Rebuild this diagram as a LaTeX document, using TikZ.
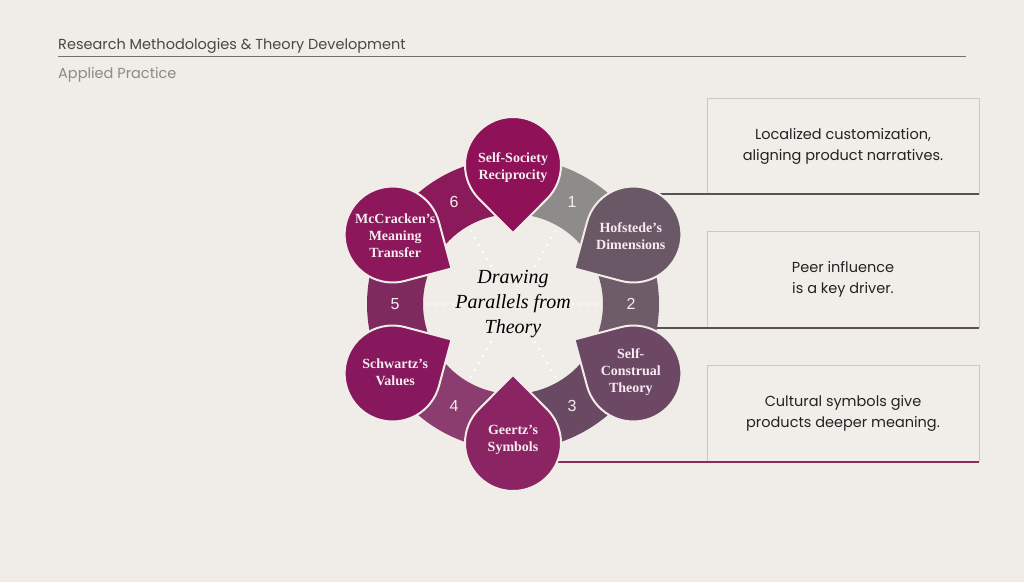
\documentclass[tikz,border=0pt]{standalone}
\usepackage{fontspec}
\usepackage{tikz}
\usetikzlibrary{positioning,calc}
\newfontfamily\popfont{Poppins}
\newfontfamily\labelfont{Liberation Serif}
\newfontfamily\numfont{Liberation Sans}
\definecolor{pgback}{HTML}{F0ECE8}
\definecolor{headtext}{HTML}{484848}
\definecolor{subtext}{HTML}{8A8A8A}
\definecolor{ruleline}{HTML}{707070}
\definecolor{notefill}{HTML}{F1EEEA}
\definecolor{notedge}{HTML}{CCC7C2}
\definecolor{notetext}{HTML}{222222}
\definecolor{linkone}{HTML}{545454}
\definecolor{linktwo}{HTML}{5C4E57}
\definecolor{linkthree}{HTML}{8C2A5F}
\definecolor{segone}{HTML}{8E8C8B}
\definecolor{segtwo}{HTML}{6E5D69}
\definecolor{segthree}{HTML}{6A4A63}
\definecolor{segfour}{HTML}{8A3D6E}
\definecolor{segfive}{HTML}{7E2A5E}
\definecolor{segsix}{HTML}{8A1A5A}
\definecolor{dropone}{HTML}{8F1157}
\definecolor{droptwo}{HTML}{6B5866}
\definecolor{dropthree}{HTML}{6D4865}
\definecolor{dropfour}{HTML}{8B2462}
\definecolor{dropfive}{HTML}{87185D}
\definecolor{dropsix}{HTML}{8C175A}
\definecolor{dropwhite}{HTML}{F5ECF0}
\tikzstyle{note} = [rectangle, minimum width=272, minimum height=96, text centered, align=center, draw=notedge, fill=notefill, line width=0.8pt, text=notetext, font=\popfont\fontsize{14.5}{21}\selectfont]
\tikzstyle{link} = [line width=2pt]
\tikzstyle{drop} = [draw=pgback, line width=2pt, line join=round]
\tikzstyle{droplabel} = [align=center, text=dropwhite, font=\labelfont\bfseries\fontsize{14}{17}\selectfont]
\tikzstyle{num} = [text=dropwhite, font=\numfont\fontsize{16}{16}\selectfont]
\tikzstyle{dotline} = [draw=white, opacity=0.85, line width=3pt, line cap=round, dash pattern=on 0pt off 8pt]

\begin{document}
\begin{tikzpicture}[x=1pt, y=1pt]
\useasboundingbox (0,0) rectangle (1024,582);
\fill[pgback] (0,0) rectangle (1024,582);

% Header
\node (head) [anchor=base west, inner sep=0, text=headtext, font=\popfont\fontsize{14.5}{17}\selectfont] at (58,532) {Research Methodologies \& Theory Development};
\draw[ruleline, line width=1pt] ([yshift=-7]head.base west) -- ++(908,0);
\node (sub) [anchor=base west, inner sep=0, text=subtext, font=\popfont\fontsize{14.5}{17}\selectfont] at (58,503) {Applied Practice};

% Notes
\node (noteone) [note] at (843,436) {Localized customization,\\aligning product narratives.};
\node (notetwo) [note, below=37 of noteone] {Peer influence\\is a key driver.};
\node (notethree) [note, below=37 of notetwo] {Cultural symbols give\\products deeper meaning.};

% Wheel
\coordinate (hub) at (513,278);
\coordinate (society) at ($(hub)+(90:139)$);
\coordinate (hofstede) at ($(hub)+(30:139)$);
\coordinate (construal) at ($(hub)+(-30:139)$);
\coordinate (geertz) at ($(hub)+(-90:139)$);
\coordinate (schwartz) at ($(hub)+(-150:139)$);
\coordinate (mccracken) at ($(hub)+(150:139)$);

% Links
\draw[link, linkone] (hofstede |- noteone.south) -- (noteone.south east);
\draw[link, linktwo] (construal |- notetwo.south) -- (notetwo.south east);
\draw[link, linkthree] (geertz |- notethree.south) -- (notethree.south east);

% Ring
\fill[segone] ($(hub)+(90:90)$) arc[start angle=90, end angle=30, radius=90] -- ($(hub)+(30:146)$) arc[start angle=30, end angle=90, radius=146] -- cycle;
\fill[segtwo] ($(hub)+(30:90)$) arc[start angle=30, end angle=-30, radius=90] -- ($(hub)+(-30:146)$) arc[start angle=-30, end angle=30, radius=146] -- cycle;
\fill[segthree] ($(hub)+(-30:90)$) arc[start angle=-30, end angle=-90, radius=90] -- ($(hub)+(-90:146)$) arc[start angle=-90, end angle=-30, radius=146] -- cycle;
\fill[segfour] ($(hub)+(-90:90)$) arc[start angle=-90, end angle=-150, radius=90] -- ($(hub)+(-150:146)$) arc[start angle=-150, end angle=-90, radius=146] -- cycle;
\fill[segfive] ($(hub)+(-150:90)$) arc[start angle=-150, end angle=-210, radius=90] -- ($(hub)+(150:146)$) arc[start angle=150, end angle=210, radius=146] -- cycle;
\fill[segsix] ($(hub)+(150:90)$) arc[start angle=150, end angle=90, radius=90] -- ($(hub)+(90:146)$) arc[start angle=90, end angle=150, radius=146] -- cycle;

% Dots
\draw[dotline] ($(hub)+(0:44)$) -- ($(hub)+(0:86)$);
\draw[dotline] ($(hub)+(60:44)$) -- ($(hub)+(60:86)$);
\draw[dotline] ($(hub)+(120:44)$) -- ($(hub)+(120:86)$);
\draw[dotline] ($(hub)+(180:44)$) -- ($(hub)+(180:86)$);
\draw[dotline] ($(hub)+(240:44)$) -- ($(hub)+(240:86)$);
\draw[dotline] ($(hub)+(300:44)$) -- ($(hub)+(300:86)$);

% Numbers
\node (n1) [num] at ($(hub)+(60:118)$) {1};
\node (n2) [num] at ($(hub)+(0:118)$) {2};
\node (n3) [num] at ($(hub)+(-60:118)$) {3};
\node (n4) [num] at ($(hub)+(-120:118)$) {4};
\node (n5) [num] at ($(hub)+(180:118)$) {5};
\node (n6) [num] at ($(hub)+(120:118)$) {6};

% Drops
\filldraw[drop, fill=dropone] ($(hub)+(90:71)$) -- ($(society)+(225:48)$) arc[start angle=225, delta angle=-270, radius=48] -- cycle;
\filldraw[drop, fill=droptwo] ($(hub)+(30:71)$) -- ($(hofstede)+(165:48)$) arc[start angle=165, delta angle=-270, radius=48] -- cycle;
\filldraw[drop, fill=dropthree] ($(hub)+(-30:71)$) -- ($(construal)+(105:48)$) arc[start angle=105, delta angle=-270, radius=48] -- cycle;
\filldraw[drop, fill=dropfour] ($(hub)+(-90:71)$) -- ($(geertz)+(45:48)$) arc[start angle=45, delta angle=-270, radius=48] -- cycle;
\filldraw[drop, fill=dropfive] ($(hub)+(-150:71)$) -- ($(schwartz)+(-15:48)$) arc[start angle=-15, delta angle=-270, radius=48] -- cycle;
\filldraw[drop, fill=dropsix] ($(hub)+(150:71)$) -- ($(mccracken)+(-75:48)$) arc[start angle=-75, delta angle=-270, radius=48] -- cycle;

% Labels
\node (societylabel) [droplabel] at ($(society)!3pt!(hub)$) {Self-Society\\Reciprocity};
\node (hofstedelabel) [droplabel] at ($(hofstede)!3pt!(hub)$) {Hofstede’s\\Dimensions};
\node (construallabel) [droplabel] at ($(construal)!3pt!(hub)$) {Self-\\Construal\\Theory};
\node (geertzlabel) [droplabel] at ($(geertz)!3pt!(hub)$) {Geertz’s\\Symbols};
\node (schwartzlabel) [droplabel] at ($(schwartz)!3pt!(hub)$) {Schwartz’s\\Values};
\node (mccrackenlabel) [droplabel] at ($(mccracken)!3pt!(hub)$) {McCracken’s\\Meaning\\Transfer};

% Centre
\node (title) [align=center, text=black, font=\labelfont\itshape\fontsize{20}{25}\selectfont] at (hub) {Drawing\\Parallels from\\Theory};
\end{tikzpicture}
\end{document}
